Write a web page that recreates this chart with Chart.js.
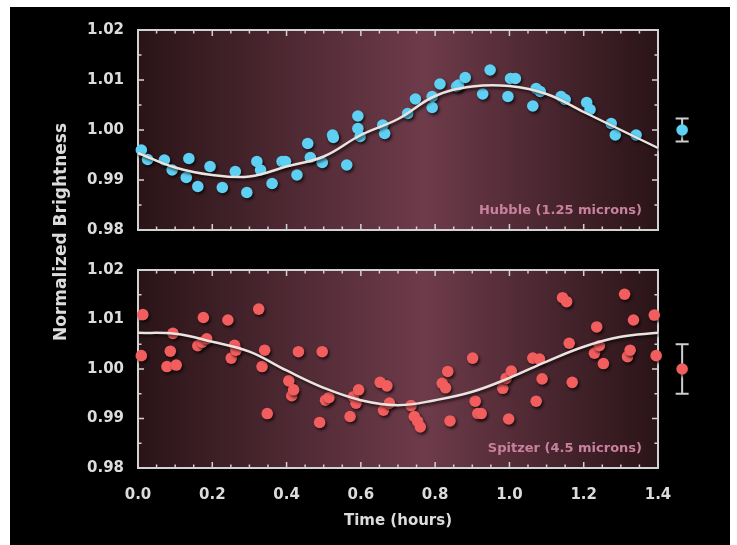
<!DOCTYPE html>
<html>
<head>
<meta charset="utf-8">
<script src="https://cdn.jsdelivr.net/npm/chart.js@4.4.0/dist/chart.umd.min.js"></script>
<style>
  body { margin: 0; background: #fff; }
  #frame { position: absolute; left: 10px; top: 7px; width: 720px; height: 538px; background: #000; }
  canvas { position: absolute; left: 0; top: 0; }
</style>
</head>
<body>
<div id="frame"></div>
<canvas id="top" width="737" height="545"></canvas>
<canvas id="bottom" width="737" height="545"></canvas>
<script>
// time in hours
const hubbleTime = [0.009,0.026,0.071,0.092,0.130,0.137,0.161,0.194,0.227,0.262,0.293,0.320,0.330,0.361,0.388,0.397,0.428,0.457,0.464,0.496,0.524,0.526,0.562,0.592,0.592,0.598,0.659,0.664,0.726,0.747,0.792,0.792,0.813,0.858,0.863,0.881,0.928,0.948,0.996,1.003,1.016,1.063,1.072,1.083,1.139,1.150,1.208,1.217,1.274,1.285,1.341];
const hubbleFlux = [0.9960,0.9941,0.9940,0.9920,0.9905,0.9943,0.9887,0.9927,0.9885,0.9917,0.9875,0.9937,0.9920,0.9893,0.9937,0.9937,0.9910,0.9973,0.9945,0.9935,0.9990,0.9985,0.9930,1.0028,1.0003,0.9987,1.0010,0.9993,1.0033,1.0062,1.0067,1.0045,1.0092,1.0087,1.0090,1.0105,1.0072,1.0120,1.0067,1.0103,1.0103,1.0048,1.0083,1.0077,1.0067,1.0061,1.0055,1.0041,1.0013,0.9990,0.9990];

const spitzerTime = [0.009,0.013,0.078,0.087,0.094,0.103,0.161,0.173,0.176,0.185,0.242,0.251,0.260,0.264,0.325,0.334,0.341,0.348,0.406,0.414,0.419,0.432,0.489,0.496,0.505,0.514,0.571,0.580,0.587,0.594,0.652,0.661,0.670,0.677,0.735,0.744,0.753,0.760,0.819,0.828,0.834,0.840,0.901,0.908,0.915,0.924,0.982,0.991,0.998,1.005,1.063,1.072,1.081,1.088,1.143,1.154,1.161,1.169,1.229,1.235,1.242,1.253,1.310,1.318,1.325,1.334,1.390,1.395];
const spitzerFlux = [1.0027,1.0110,1.0005,1.0036,1.0072,1.0008,1.0047,1.0054,1.0104,1.0061,1.0099,1.0022,1.0048,1.0038,1.0121,1.0005,1.0038,0.9910,0.9976,0.9946,0.9958,1.0035,0.9892,1.0035,0.9937,0.9942,0.9904,0.9944,0.9931,0.9958,0.9973,0.9917,0.9966,0.9931,0.9926,0.9904,0.9894,0.9883,0.9971,0.9962,0.9995,0.9895,1.0022,0.9935,0.9910,0.9910,0.9961,0.9981,0.9899,0.9996,1.0022,0.9935,1.0020,0.9980,1.0144,1.0136,1.0052,0.9973,1.0032,1.0085,1.0047,1.0011,1.0151,1.0025,1.0038,1.0099,1.0109,1.0027];

const modelTime = [0.0,0.1,0.2,0.3,0.4,0.5,0.6,0.7,0.8,0.9,1.0,1.1,1.2,1.3,1.4];
const hubbleModel = [0.9954,0.9925,0.9910,0.9907,0.9927,0.9947,0.9990,1.0022,1.0068,1.0087,1.0088,1.0072,1.0036,1.0000,0.9964];
const spitzerModel = [1.0073,1.0071,1.0055,1.0035,0.9997,0.9962,0.9937,0.9927,0.9937,0.9954,0.9982,1.0015,1.0045,1.0065,1.0073];

// typical error bar shown right of each panel
const errTime = 1.465;
const errFlux = 1.000;
const hubbleErr = 0.0023;
const spitzerErr = 0.005;

const yTicks = [0.98, 0.99, 1.00, 1.01, 1.02];
const xTicks = [0.0, 0.2, 0.4, 0.6, 0.8, 1.0, 1.2, 1.4];

const labelColor = '#dcdcdc';
const frameColor = '#d2d2d2';
const font = 'DejaVu Sans';

const toPoints = (xs, ys) => xs.map((x, i) => ({ x: x, y: ys[i] }));

const panelPlugin = {
    id: 'panel',
    beforeDraw(chart, args, opts) {
        const { ctx, chartArea: a } = chart;
        const g = ctx.createLinearGradient(a.left, 0, a.right, 0);
        g.addColorStop(0, '#2a1418');
        g.addColorStop(0.55, '#6e3b4a');
        g.addColorStop(1, '#2a1418');
        ctx.save();
        ctx.fillStyle = g;
        ctx.fillRect(a.left, a.top, a.right - a.left, a.bottom - a.top);
        ctx.restore();
    },
    beforeDatasetsDraw(chart, args, opts) {
        const { ctx, chartArea: a, scales } = chart;
        const x = scales.x, y = scales.y;
        ctx.save();
        ctx.strokeStyle = frameColor;
        ctx.lineWidth = 1.5;
        // minor/major ticks on all four sides
        for (let v = 0; v <= 1.4001; v += 0.05) {
            const px = x.getPixelForValue(v);
            const major = Math.abs(v / 0.2 - Math.round(v / 0.2)) < 0.01;
            const len = major ? 6 : 3.5;
            ctx.beginPath();
            ctx.moveTo(px, a.top); ctx.lineTo(px, a.top + len);
            ctx.moveTo(px, a.bottom); ctx.lineTo(px, a.bottom - len);
            ctx.stroke();
        }
        for (let v = 0.98; v <= 1.0201; v += 0.005) {
            const py = y.getPixelForValue(v);
            const major = Math.abs(v / 0.01 - Math.round(v / 0.01)) < 0.01;
            const len = major ? 6 : 3.5;
            ctx.beginPath();
            ctx.moveTo(a.left, py); ctx.lineTo(a.left + len, py);
            ctx.moveTo(a.right, py); ctx.lineTo(a.right - len, py);
            ctx.stroke();
        }
        ctx.lineWidth = 2;
        ctx.strokeRect(a.left, a.top, a.right - a.left, a.bottom - a.top);

        // error bar whiskers
        const ex = x.getPixelForValue(errTime);
        const yt = y.getPixelForValue(errFlux + opts.err);
        const yb = y.getPixelForValue(errFlux - opts.err);
        ctx.strokeStyle = '#cfcfcf';
        ctx.lineWidth = 2;
        ctx.beginPath();
        ctx.moveTo(ex, yt); ctx.lineTo(ex, yb);
        ctx.moveTo(ex - 6.5, yt); ctx.lineTo(ex + 6.5, yt);
        ctx.moveTo(ex - 6.5, yb); ctx.lineTo(ex + 6.5, yb);
        ctx.stroke();

        // instrument label
        ctx.fillStyle = '#c8829e';
        ctx.font = 'bold 13px ' + font;
        ctx.textAlign = 'right';
        ctx.textBaseline = 'middle';
        ctx.fillText(opts.label, a.right - 16, a.bottom - 19);
        ctx.restore();

        ctx.save();
        ctx.shadowColor = 'rgba(0,0,0,0.7)';
        ctx.shadowBlur = 3;
        ctx.shadowOffsetX = 1.5;
        ctx.shadowOffsetY = 2;
    },
    afterDatasetsDraw(chart, args, opts) {
        const { ctx, scales } = chart;
        // error bar point sits outside the x range, so the scatter skips it
        ctx.fillStyle = opts.color;
        ctx.beginPath();
        ctx.arc(scales.x.getPixelForValue(errTime), scales.y.getPixelForValue(errFlux), 5.8, 0, Math.PI * 2);
        ctx.fill();
        ctx.restore();
    },
    afterDraw(chart, args, opts) {
        if (!opts.yTitle) return;
        const ctx = chart.ctx;
        ctx.save();
        ctx.translate(62, 232);
        ctx.rotate(-Math.PI / 2);
        ctx.fillStyle = labelColor;
        ctx.font = 'bold 17px ' + font;
        ctx.textAlign = 'center';
        ctx.textBaseline = 'middle';
        ctx.fillText('Normalized Brightness', 0, 0);
        ctx.restore();
    }
};

function makeChart(id, time, flux, modelY, color, err, label, isBottom) {
    return new Chart(document.getElementById(id), {
        type: 'scatter',
        data: {
            datasets: [
                {
                    type: 'line',
                    data: toPoints(modelTime, modelY),
                    borderColor: '#ebe3df',
                    borderWidth: 2.5,
                    pointRadius: 0,
                    tension: 0.4,
                    clip: false,
                },
                {
                    data: toPoints(time, flux),
                    backgroundColor: color,
                    borderWidth: 0,
                    pointRadius: 5.8,
                    clip: false,
                },
            ],
        },
        options: {
            responsive: false,
            animation: false,
            layout: { padding: { top: isBottom ? 270 : 30, bottom: isBottom ? 0 : 315, left: 0, right: 79 } },
            plugins: {
                legend: { display: false },
                tooltip: { enabled: false },
                panel: { err: err, label: label, color: color, yTitle: !isBottom },
            },
            scales: {
                x: {
                    type: 'linear',
                    min: 0, max: 1.4,
                    display: isBottom,
                    afterBuildTicks: (s) => { s.ticks = xTicks.map(v => ({ value: v })); },
                    afterFit: (s) => { s.height = isBottom ? 77 : 0; },
                    grid: { display: false, drawTicks: false },
                    border: { display: false },
                    ticks: {
                        color: labelColor,
                        padding: 18,
                        maxRotation: 0,
                        font: { family: font, size: 15, weight: 'bold' },
                        callback: (v) => v.toFixed(1),
                    },
                    title: {
                        display: true,
                        text: 'Time (hours)',
                        color: labelColor,
                        padding: { top: 0, bottom: 15 },
                        font: { family: font, size: 15, weight: 'bold' },
                    },
                },
                y: {
                    min: 0.98, max: 1.02,
                    afterBuildTicks: (s) => { s.ticks = yTicks.map(v => ({ value: v })); },
                    afterFit: (s) => { s.width = 138; },
                    grid: { display: false, drawTicks: false },
                    border: { display: false },
                    ticks: {
                        color: labelColor,
                        padding: 14,
                        font: { family: font, size: 15, weight: 'bold' },
                        callback: (v) => v.toFixed(2),
                    },
                },
            },
        },
        plugins: [panelPlugin],
    });
}

makeChart('top', hubbleTime, hubbleFlux, hubbleModel, '#5dd0f3', hubbleErr, 'Hubble (1.25 microns)', false);
makeChart('bottom', spitzerTime, spitzerFlux, spitzerModel, '#f25d5d', spitzerErr, 'Spitzer (4.5 microns)', true);
</script>
</body>
</html>
